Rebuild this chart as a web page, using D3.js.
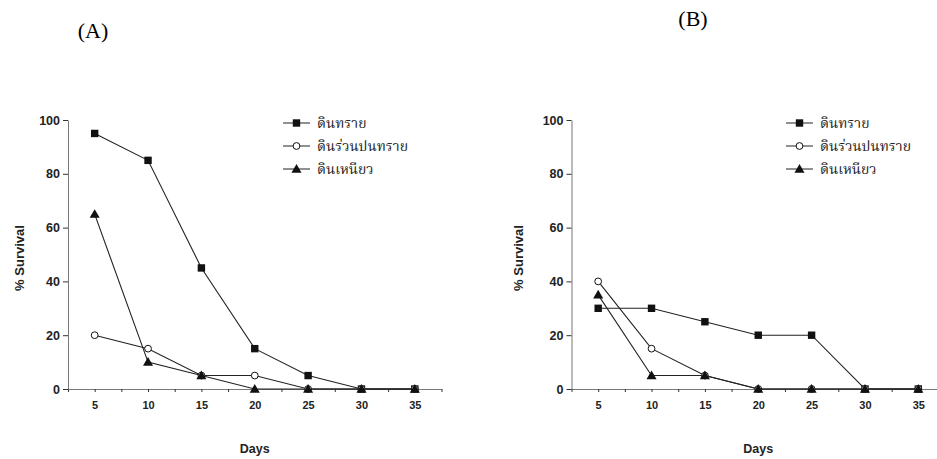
<!DOCTYPE html>
<html>
<head>
<meta charset="utf-8">
<script src="https://cdn.jsdelivr.net/npm/d3@7"></script>
<style>
  body { margin: 0; background: #fff; }
  .axis text { font-family: Arial, "Liberation Sans", sans-serif; font-weight: bold; font-size: 11px; fill: #222; }
  .axis.y text { font-size: 12.5px; }
  .axis path { stroke: #777; }
  .axis line { stroke: #333; }
</style>
</head>
<body>
<div class="canvas"></div>
<script>
// days on the x axis
const days = [5, 10, 15, 20, 25, 30, 35];
const seriesNames = ['ดินทราย', 'ดินร่วนปนทราย', 'ดินเหนียว'];
const xTicks = [5, 10, 15, 20, 25, 30, 35];
const yTicks = [0, 20, 40, 60, 80, 100];

// panel A values
const sandA = [95, 85, 45, 15, 5, 0, 0];
const loamA = [20, 15, 5, 5, 0, 0, 0];
const clayA = [65, 10, 5, 0, 0, 0, 0];

// panel B values
const sandB = [30, 30, 25, 20, 20, 0, 0];
const loamB = [40, 15, 5, 0, 0, 0, 0];
const clayB = [35, 5, 5, 0, 0, 0, 0];

const svg = d3.select('.canvas')
    .append('svg')
    .attr('width', 937)
    .attr('height', 459);

const panels = [
    { label: '(A)', labelX: 93, labelY: 38, left: 68, yTitleX: 24, series: [sandA, loamA, clayA], legendX: 283 },
    { label: '(B)', labelX: 693, labelY: 26, left: 571.5, yTitleX: 522.5, series: [sandB, loamB, clayB], legendX: 786 }
];

const markers = ['square', 'circle', 'triangle'];
const graphHeight = 269;
const graphTop = 120;

const drawMarker = (g, type, cx, cy) => {
    if (type === 'square') {
        g.append('rect')
            .attr('x', cx - 3.7).attr('y', cy - 3.7)
            .attr('width', 7.4).attr('height', 7.4)
            .attr('fill', '#111');
    } else if (type === 'circle') {
        g.append('circle')
            .attr('cx', cx).attr('cy', cy).attr('r', 3.4)
            .attr('fill', '#fff').attr('stroke', '#111').attr('stroke-width', 1);
    } else {
        g.append('path')
            .attr('d', d3.symbol(d3.symbolTriangle, 44)())
            .attr('transform', `translate(${cx},${cy + 0.8})`)
            .attr('fill', '#111');
    }
};

panels.forEach(p => {
    // panel title
    svg.append('text')
        .attr('x', p.labelX).attr('y', p.labelY)
        .attr('text-anchor', 'middle')
        .attr('font-family', '"Liberation Serif", "Times New Roman", serif')
        .attr('font-size', 22)
        .text(p.label);

    const graph = svg.append('g')
        .attr('transform', `translate(${p.left},${graphTop})`);

    const x = d3.scaleLinear().domain([2.5, 37.5]).range([0, 373.5]);
    const y = d3.scaleLinear().domain([0, 100]).range([graphHeight, 0]);

    // small ticks every 2.5 days, labels only on the fives
    const xAxis = d3.axisBottom(x)
        .tickValues(d3.range(2.5, 37.6, 2.5))
        .tickSizeInner(3).tickSizeOuter(0)
        .tickPadding(9)
        .tickFormat(d => xTicks.includes(d) ? d : '');
    const yAxis = d3.axisLeft(y)
        .tickValues(yTicks)
        .tickSizeInner(5).tickSizeOuter(0)
        .tickPadding(3);

    graph.append('g').attr('class', 'axis x')
        .attr('transform', `translate(0,${graphHeight})`)
        .call(xAxis);
    graph.append('g').attr('class', 'axis y')
        .call(yAxis);

    // axis titles
    svg.append('text')
        .attr('transform', `translate(${p.yTitleX},258) rotate(-90)`)
        .attr('text-anchor', 'middle')
        .attr('font-family', 'Arial, "Liberation Sans", sans-serif')
        .attr('font-weight', 'bold').attr('font-size', 13)
        .attr('fill', '#222')
        .text('% Survival');
    graph.append('text')
        .attr('x', x(20)).attr('y', graphHeight + 64)
        .attr('text-anchor', 'middle')
        .attr('font-family', 'Arial, "Liberation Sans", sans-serif')
        .attr('font-weight', 'bold').attr('font-size', 12.5)
        .attr('fill', '#222')
        .text('Days');

    const line = d3.line()
        .x((d, i) => x(days[i]))
        .y(d => y(d));

    p.series.forEach(s => {
        graph.append('path')
            .datum(s)
            .attr('d', line)
            .attr('fill', 'none')
            .attr('stroke', '#222')
            .attr('stroke-width', 1.1);
    });
    p.series.forEach((s, k) => {
        s.forEach((v, i) => drawMarker(graph, markers[k], x(days[i]), y(v)));
    });

    // legend
    const legend = svg.append('g');
    seriesNames.forEach((name, k) => {
        const ly = 123 + k * 23;
        legend.append('line')
            .attr('x1', p.legendX).attr('x2', p.legendX + 27)
            .attr('y1', ly).attr('y2', ly)
            .attr('stroke', '#222');
        drawMarker(legend, markers[k], p.legendX + 13.5, ly);
        legend.append('text')
            .attr('x', p.legendX + 34).attr('y', ly + 5)
            .attr('font-family', '"Noto Serif Thai", "Noto Sans Thai", "Loma", "Garuda", serif')
            .attr('font-size', 14)
            .attr('fill', '#222')
            .text(name);
    });
});
</script>
</body>
</html>
